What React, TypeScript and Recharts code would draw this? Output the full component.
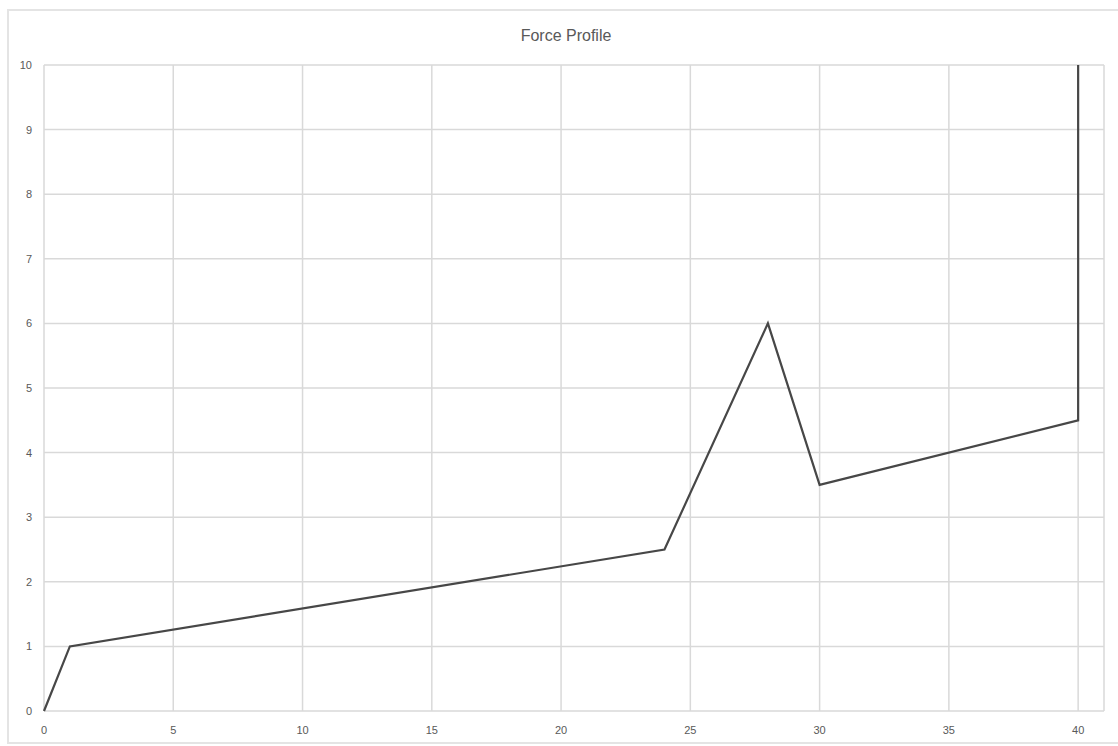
import React from 'react';
import { LineChart, Line, XAxis, YAxis, CartesianGrid } from 'recharts';

const xValues = [0, 1, 24, 28, 30, 40, 40];
const forceValues = [0, 1, 2.5, 6, 3.5, 4.5, 10];
const xTicks = [0, 5, 10, 15, 20, 25, 30, 35, 40];
const yTicks = [0, 1, 2, 3, 4, 5, 6, 7, 8, 9, 10];
const title = 'Force Profile';

const data = xValues.map((x, i) => ({ x, force: forceValues[i] }));

export default function App() {
  const tickStyle = { fill: '#595959', fontSize: 11, fontFamily: 'Liberation Sans, Arial, sans-serif' };
  return (
    <div style={{ position: 'fixed', left: 0, top: 0, width: 1118, height: 746, overflow: 'hidden', background: '#fff' }}>
      <div
        style={{
          position: 'absolute',
          left: 7,
          top: 9,
          width: 1130,
          height: 735,
          border: '2px solid #e4e4e4',
          boxSizing: 'border-box',
        }}
      />
      <div
        style={{
          position: 'absolute',
          left: 0,
          width: 1132,
          top: 26,
          textAlign: 'center',
          fontFamily: 'Liberation Sans, Arial, sans-serif',
          fontSize: 16,
          color: '#595959',
          lineHeight: '20px',
        }}
      >
        {title}
      </div>
      <div style={{ position: 'absolute', left: 0, top: 0 }}>
        <LineChart width={1118} height={746} data={data} margin={{ top: 65, right: 14, left: 0, bottom: 10 }}>
          <CartesianGrid stroke="#d9d9d9" strokeWidth={1.5} />
          <XAxis
            dataKey="x"
            type="number"
            domain={[0, 41]}
            ticks={xTicks}
            axisLine={false}
            tickLine={false}
            tickSize={0}
            tickMargin={15}
            height={25}
            tick={tickStyle}
            interval={0}
          />
          <YAxis
            type="number"
            domain={[0, 10]}
            ticks={yTicks}
            axisLine={false}
            tickLine={false}
            tickSize={0}
            tickMargin={12}
            width={44}
            tick={tickStyle}
            interval={0}
          />
          <Line
            type="linear"
            dataKey="force"
            stroke="#474747"
            strokeWidth={2.2}
            dot={false}
            isAnimationActive={false}
          />
        </LineChart>
      </div>
    </div>
  );
}
